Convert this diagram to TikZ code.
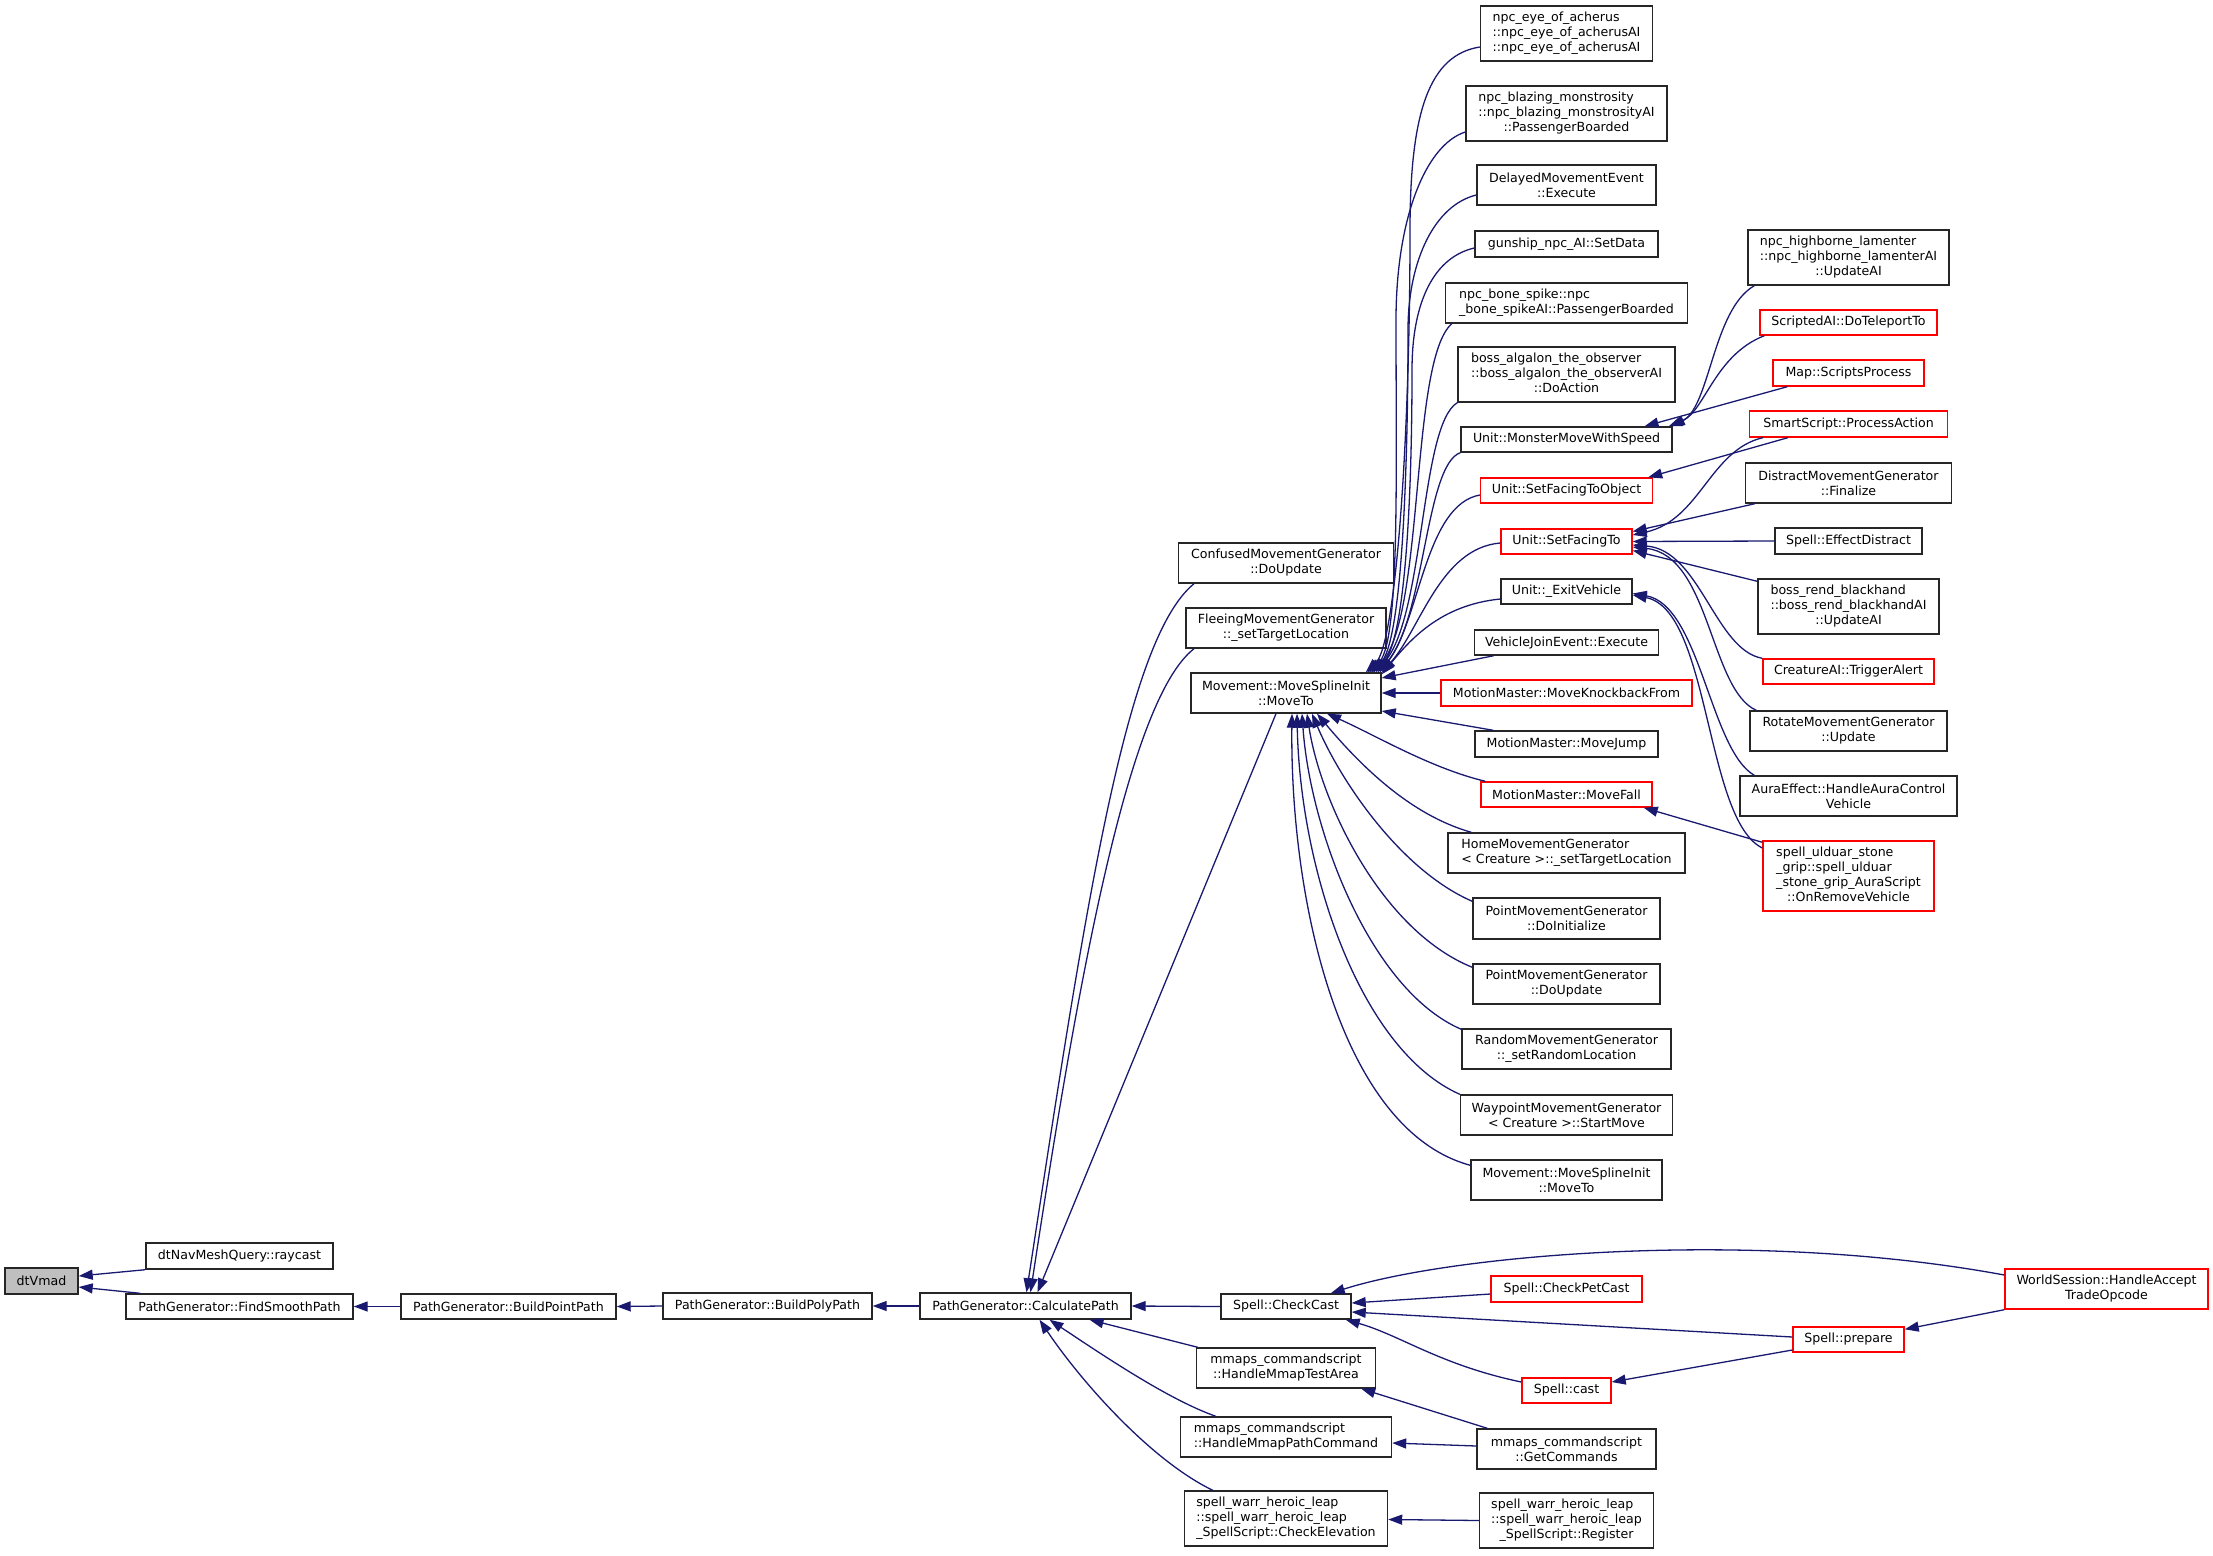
\documentclass[tikz,border=0pt]{standalone}
\usepackage{fontspec}
\setmainfont{DejaVu Sans}
\usetikzlibrary{arrows.meta,calc}
\definecolor{mb}{HTML}{191970}
\definecolor{fillg}{HTML}{BFBFBF}
\newcommand\lft[1]{\multicolumn{1}{@{}l@{}}{#1}}
\begin{document}
\begin{tikzpicture}[x=1pt,y=-1pt,font=\fontsize{12.6}{15}\selectfont,
  box/.style={draw=black!85,line width=1.4pt,inner sep=0pt,align=center,fill=white,rectangle},
  rbox/.style={box,draw=red},
  wh/.style 2 args={minimum width=#1pt,minimum height=#2pt},
  cl/.style={draw=mb,line width=1.3pt,{Triangle[length=14pt,width=10pt]}-}]
\useasboundingbox (0,0) rectangle (2213,1555);
% column 0/1
\node[box,wh={73}{26},fill=fillg] (dtv) at (41.5,1281) {dtVmad};
\node[box,wh={187}{26}] (raycast) at (239.5,1256) {dtNavMeshQuery::raycast};
\node[box,wh={227}{25}] (smooth) at (239.5,1306.5) {PathGenerator::FindSmoothPath};
\node[box,wh={215}{25}] (bpoint) at (508.5,1306.5) {PathGenerator::BuildPointPath};
\node[box,wh={209}{26}] (bpoly) at (767.5,1306) {PathGenerator::BuildPolyPath};
\node[box,wh={211}{26}] (calc) at (1025.5,1306) {PathGenerator::CalculatePath};
% column 2
\node[box,wh={215}{40}] (confused) at (1286,563) {ConfusedMovementGenerator\\::DoUpdate};
\node[box,wh={200}{40}] (fleeing) at (1286,628) {FleeingMovementGenerator\\::\_setTargetLocation};
\node[box,wh={190}{40}] (mvA) at (1286,693) {Movement::MoveSplineInit\\::MoveTo};
\node[box,wh={130}{25}] (checkcast) at (1286,1306.5) {Spell::CheckCast};
\node[box,wh={179}{40}] (testarea) at (1286,1368) {mmaps\_commandscript\\::HandleMmapTestArea};
\node[box,wh={211}{40}] (pathcmd) at (1286,1437) {\begin{tabular}{@{}c@{}}\lft{mmaps\_commandscript}\\::HandleMmapPathCommand\end{tabular}};
\node[box,wh={203}{55}] (elev) at (1286,1518.5) {\begin{tabular}{@{}c@{}}\lft{spell\_warr\_heroic\_leap}\\\lft{::spell\_warr\_heroic\_leap}\\\_SpellScript::CheckElevation\end{tabular}};
% column 3
\node[box,wh={172}{55}] (eye) at (1566.5,33.5) {\begin{tabular}{@{}c@{}}\lft{npc\_eye\_of\_acherus}\\::npc\_eye\_of\_acherusAI\\::npc\_eye\_of\_acherusAI\end{tabular}};
\node[box,wh={201}{55}] (blazing) at (1566.5,113.5) {\begin{tabular}{@{}c@{}}\lft{npc\_blazing\_monstrosity}\\::npc\_blazing\_monstrosityAI\\::PassengerBoarded\end{tabular}};
\node[box,wh={179}{40}] (delayed) at (1566.5,185) {DelayedMovementEvent\\::Execute};
\node[box,wh={183}{26}] (gunship) at (1566.5,244) {gunship\_npc\_AI::SetData};
\node[box,wh={242}{40}] (bone) at (1566.5,303) {\begin{tabular}{@{}c@{}}\lft{npc\_bone\_spike::npc}\\\_bone\_spikeAI::PassengerBoarded\end{tabular}};
\node[box,wh={217}{55}] (algalon) at (1566.5,374.5) {\begin{tabular}{@{}c@{}}\lft{boss\_algalon\_the\_observer}\\::boss\_algalon\_the\_observerAI\\::DoAction\end{tabular}};
\node[box,wh={211}{25}] (monster) at (1566.5,439.5) {Unit::MonsterMoveWithSpeed};
\node[rbox,wh={172}{25}] (sfto) at (1566.5,490.5) {Unit::SetFacingToObject};
\node[rbox,wh={131}{25}] (sft) at (1566.5,541.5) {Unit::SetFacingTo};
\node[box,wh={131}{25}] (exitv) at (1566.5,591.5) {Unit::\_ExitVehicle};
\node[box,wh={184}{25}] (vje) at (1566.5,642.5) {VehicleJoinEvent::Execute};
\node[rbox,wh={251}{26}] (knock) at (1566.5,693) {MotionMaster::MoveKnockbackFrom};
\node[box,wh={183}{26}] (jump) at (1566.5,744) {MotionMaster::MoveJump};
\node[rbox,wh={171}{25}] (fall) at (1566.5,794.5) {MotionMaster::MoveFall};
\node[box,wh={237}{40}] (home) at (1566.5,853) {\begin{tabular}{@{}c@{}}\lft{HomeMovementGenerator}\\< Creature >::\_setTargetLocation\end{tabular}};
\node[box,wh={187}{41}] (pinit) at (1566.5,918.5) {PointMovementGenerator\\::DoInitialize};
\node[box,wh={187}{40}] (pupd) at (1566.5,984) {PointMovementGenerator\\::DoUpdate};
\node[box,wh={209}{40}] (random) at (1566.5,1049) {RandomMovementGenerator\\::\_setRandomLocation};
\node[box,wh={212}{40}] (waypoint) at (1566.5,1115) {WaypointMovementGenerator\\< Creature >::StartMove};
\node[box,wh={191}{40}] (mvB) at (1566.5,1180) {Movement::MoveSplineInit\\::MoveTo};
\node[rbox,wh={151}{26}] (petcast) at (1566.5,1289) {Spell::CheckPetCast};
\node[rbox,wh={89}{25}] (cast) at (1566.5,1390.5) {Spell::cast};
\node[box,wh={179}{40}] (getcmd) at (1566.5,1449) {mmaps\_commandscript\\::GetCommands};
\node[box,wh={174}{55}] (register) at (1566.5,1520.5) {\begin{tabular}{@{}c@{}}\lft{spell\_warr\_heroic\_leap}\\::spell\_warr\_heroic\_leap\\\_SpellScript::Register\end{tabular}};
% column 4
\node[box,wh={201}{55}] (highborne) at (1848.5,257.5) {\begin{tabular}{@{}c@{}}\lft{npc\_highborne\_lamenter}\\::npc\_highborne\_lamenterAI\\::UpdateAI\end{tabular}};
\node[rbox,wh={177}{25}] (scripted) at (1848.5,322.5) {ScriptedAI::DoTeleportTo};
\node[rbox,wh={151}{26}] (mapsp) at (1848.5,373) {Map::ScriptsProcess};
\node[rbox,wh={198}{26}] (smart) at (1848.5,424) {SmartScript::ProcessAction};
\node[box,wh={206}{40}] (distract) at (1848.5,483) {DistractMovementGenerator\\::Finalize};
\node[box,wh={147}{26}] (effd) at (1848.5,541) {Spell::EffectDistract};
\node[box,wh={181}{55}] (rend) at (1848.5,606.5) {\begin{tabular}{@{}c@{}}\lft{boss\_rend\_blackhand}\\::boss\_rend\_blackhandAI\\::UpdateAI\end{tabular}};
\node[rbox,wh={171}{25}] (trigger) at (1848.5,671.5) {CreatureAI::TriggerAlert};
\node[box,wh={197}{40}] (rotate) at (1848.5,731) {RotateMovementGenerator\\::Update};
\node[box,wh={217}{40}] (aura) at (1848.5,796) {AuraEffect::HandleAuraControl\\Vehicle};
\node[rbox,wh={171}{70}] (ulduar) at (1848.5,876) {\begin{tabular}{@{}c@{}}\lft{spell\_ulduar\_stone}\\\lft{\_grip::spell\_ulduar}\\\_stone\_grip\_AuraScript\\::OnRemoveVehicle\end{tabular}};
\node[rbox,wh={111}{25}] (prepare) at (1848.5,1339.5) {Spell::prepare};
\node[rbox,wh={203}{40}] (world) at (2106.5,1289) {WorldSession::HandleAccept\\TradeOpcode};
% edges: left chain
\draw[cl] ([yshift=5pt]dtv.east) -- (raycast.south west);
\draw[cl] ([yshift=-6pt]dtv.east) -- ([xshift=15pt]smooth.north west);
\draw[cl] (smooth.east) -- (bpoint.west);
\draw[cl] (bpoint.east) -- (bpoly.west);
\draw[cl] (bpoly.east) -- (calc.west);
\draw[cl] (calc.east) -- (checkcast.west);
% into CalculatePath
\draw[cl] ([xshift=12pt]calc.north) -- ([xshift=-10pt]mvA.south);
\draw[cl] ([xshift=1pt]calc.north) .. controls (1085,910) and (1125,640) .. ([xshift=-92pt]confused.south);
\draw[cl] ([xshift=5pt]calc.north) .. controls (1078,980) and (1128,700) .. ([xshift=-92pt]fleeing.south);
\draw[cl] ([xshift=64pt]calc.south) -- ([xshift=2pt]testarea.north west);
\draw[cl] ([xshift=24pt]calc.south) .. controls (1110,1360) and (1170,1400) .. ([xshift=36pt]pathcmd.north west);
\draw[cl] ([xshift=14pt]calc.south) .. controls (1080,1380) and (1150,1460) .. ([xshift=29pt]elev.north west);
% CheckCast
\draw[cl] ([xshift=-21pt]checkcast.north east) .. controls (1450,1255) and (1750,1228) .. ([yshift=14pt]world.west);
\draw[cl] ([yshift=3.5pt]checkcast.east) -- ([yshift=-5pt]petcast.west);
\draw[cl] ([yshift=-5.5pt]checkcast.east) -- ([yshift=2.5pt]prepare.west);
\draw[cl] ([xshift=-6pt]checkcast.south east) .. controls (1400,1335) and (1440,1365) .. ([yshift=8.5pt]cast.west);
\draw[cl] ([yshift=8.5pt]cast.east) -- ([yshift=-10.5pt]prepare.west);
\draw[cl] ([yshift=-3pt]prepare.north east) -- (world.south west);
\draw[cl] ([xshift=-15pt]testarea.south east) -- ([xshift=11pt]getcmd.north west);
\draw[cl] ([yshift=-6pt]pathcmd.east) -- ([yshift=3pt]getcmd.west);
\draw[cl] ([yshift=-1pt]elev.east) -- (register.west);
% into MoveTo (top bundle)
\draw[cl] ([xshift=-16pt]mvA.north east) .. controls (1395,645) and (1410,450) .. (1410,230) .. controls (1410,110) and (1430,55) .. ([yshift=-13.5pt]eye.west);
\draw[cl] ([xshift=-14pt]mvA.north east) .. controls (1400,645) and (1396,480) .. (1396,320) .. controls (1396,220) and (1425,145) .. ([yshift=-18.5pt]blazing.west);
\draw[cl] ([xshift=-12pt]mvA.north east) .. controls (1402,645) and (1408,470) .. (1408,330) .. controls (1408,260) and (1435,205) .. ([yshift=-10pt]delayed.west);
\draw[cl] ([xshift=-10pt]mvA.north east) .. controls (1405,645) and (1412,500) .. (1412,370) .. controls (1412,300) and (1435,257) .. ([yshift=-4pt]gunship.west);
\draw[cl] ([xshift=-8pt]mvA.north east) .. controls (1425,610) and (1410,360) .. ([xshift=7pt]bone.south west);
\draw[cl] ([xshift=-6pt]mvA.north east) .. controls (1425,615) and (1420,425) .. (algalon.south west);
\draw[cl] ([xshift=-4pt]mvA.north east) .. controls (1425,620) and (1425,465) .. (monster.south west);
\draw[cl] ([xshift=-2pt]mvA.north east) .. controls (1420,620) and (1425,505) .. ([yshift=-4.5pt]sfto.west);
\draw[cl] (mvA.north east) .. controls (1420,630) and (1440,548) .. ([yshift=-1.5pt]sft.west);
\draw[cl] ([yshift=-2pt]mvA.north east) .. controls (1410,640) and (1440,605) .. ([yshift=-7.5pt]exitv.west);
\draw[cl] ([yshift=15pt]mvA.east) -- ([xshift=20pt]vje.south west);
\draw[cl] (mvA.east) -- (knock.west);
\draw[cl] ([yshift=-18pt]mvA.east) -- ([xshift=19pt]jump.north west);
% into MoveTo (bottom)
\draw[cl] ([xshift=41pt]mvA.south) .. controls (1375,735) and (1430,768) .. ([xshift=5pt]fall.north west);
\draw[cl] ([xshift=31pt]mvA.south) .. controls (1360,765) and (1410,815) .. ([xshift=24pt]home.north west);
\draw[cl] ([xshift=26pt]mvA.south) .. controls (1340,780) and (1400,870) .. ([yshift=-4pt]pinit.north west);
\draw[cl] ([xshift=21pt]mvA.south) .. controls (1320,800) and (1380,930) .. ([yshift=-4pt]pupd.north west);
\draw[cl] ([xshift=16pt]mvA.south) .. controls (1310,830) and (1370,990) .. ([yshift=-1pt]random.north west);
\draw[cl] ([xshift=11pt]mvA.south) .. controls (1300,870) and (1360,1050) .. (waypoint.north west);
\draw[cl] ([xshift=6pt]mvA.south) .. controls (1290,900) and (1340,1130) .. ([yshift=-6pt]mvB.north west);
% column 4 edges
\draw[cl] ([xshift=-4pt]monster.north east) .. controls (1710,410) and (1712,310) .. ([xshift=7pt]highborne.south west);
\draw[cl] ([xshift=-2pt]monster.north east) .. controls (1705,410) and (1715,355) .. ([xshift=5pt]scripted.south west);
\draw[cl] ([xshift=78pt]monster.north) -- ([xshift=15pt]mapsp.south west);
\draw[cl] ([xshift=-5pt]sfto.north east) -- ([xshift=39pt]smart.south west);
\draw[cl] ([yshift=6.5pt]sft.east) .. controls (1700,520) and (1710,450) .. ([xshift=14pt]smart.south west);
\draw[cl] ([yshift=10pt]sft.east) -- ([xshift=10pt]distract.south west);
\draw[cl] (sft.east) -- (effd.west);
\draw[cl] ([yshift=-9pt]sft.east) -- ([yshift=-3pt]rend.north west);
\draw[cl] ([yshift=-3.5pt]sft.east) .. controls (1700,550) and (1715,650) .. (trigger.north west);
\draw[cl] ([yshift=-5.5pt]sft.east) .. controls (1710,555) and (1710,690) .. ([xshift=7pt]rotate.north west);
\draw[cl] ([yshift=-2pt]exitv.east) .. controls (1700,605) and (1710,750) .. ([xshift=15pt]aura.north west);
\draw[cl] ([yshift=-3.5pt]exitv.east) .. controls (1710,610) and (1705,820) .. ([yshift=28pt]ulduar.west);
\draw[cl] ([xshift=-9pt]fall.south east) -- ([yshift=-2pt]ulduar.north west);
\end{tikzpicture}
\end{document}
